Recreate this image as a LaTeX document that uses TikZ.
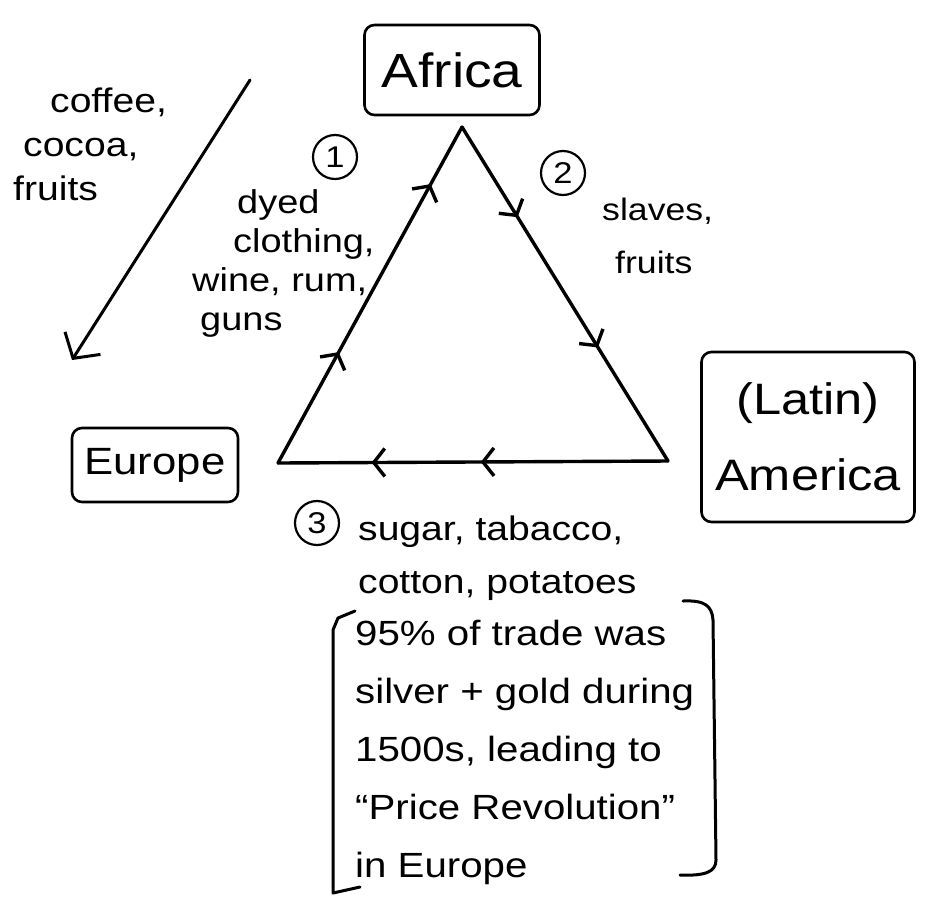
\documentclass[tikz,border=0pt]{standalone}
\usepackage{fontspec}
\setmainfont[FakeStretch=1.15]{Liberation Sans}
\usetikzlibrary{arrows.meta,decorations.markings}
\begin{document}
\begin{tikzpicture}[x=1pt,y=-1pt,line cap=round,line join=round,
  box/.style={draw,line width=2.6pt,rounded corners=10pt,inner sep=0pt,align=center},
  txt/.style={anchor=base west,inner sep=0pt,align=left},
  num/.style={draw,circle,line width=2.2pt,minimum size=44pt,inner sep=0pt,font=\fontsize{30}{30}\selectfont},
  edge/.style={line width=3.4pt},
  barb/.style={-{Straight Barb[length=18pt,width=42pt]}},
  midarrows/.style 2 args={decoration={markings,
      mark=at position #1 with {\arrow{Straight Barb[length=11pt,width=28pt]}},
      mark=at position #2 with {\arrow{Straight Barb[length=11pt,width=28pt]}}},
    postaction={decorate}}]
\useasboundingbox (0,0) rectangle (925,911);

% place boxes
\node[box,minimum width=175pt,minimum height=90pt,font=\fontsize{48}{48}\selectfont] (africa) at (452,70) {Africa};
\node[box,minimum width=166pt,minimum height=74pt,font=\fontsize{38}{38}\selectfont] (europe) at (155,465) {Europe};
\node[box,minimum width=213pt,minimum height=170pt,font=\fontsize{44}{76}\selectfont] (america) at (808,437) {(Latin)\\America};

% triangle
\coordinate (AF) at (462,127);
\coordinate (EU) at (278,463);
\coordinate (AM) at (668,461);
\draw[edge,midarrows={0.33}{0.83}] (EU) -- (AF);
\draw[edge,midarrows={0.27}{0.66}] (AF) -- (AM);
\draw[edge,midarrows={0.48}{0.76}] (AM) -- (EU);

% numbers
\node[num] (n1) at (335,157) {1};
\node[num] (n2) at (563,173) {2};
\node[num] (n3) at (317,523) {3};

% long arrow
\coordinate (ls) at (250,80);
\coordinate (le) at (72,360);
\draw[line width=3pt,barb] (ls) -- (le);

% labels (base anchor = baseline of last line)
\node[txt,font=\fontsize{34}{44}\selectfont] (goods0) at (13,200)
  {\hspace*{37pt}coffee,\\\hspace*{10pt}cocoa,\\fruits};
\node[txt,font=\fontsize{33}{39}\selectfont] (goods1) at (192,330)
  {\hspace*{45pt}dyed\\\hspace*{41pt}clothing,\\wine, rum,\\\hspace*{8pt}guns};
\node[txt,font=\fontsize{31}{53}\selectfont] (goods2) at (602,273)
  {slaves,\\\hspace*{13pt}fruits};
\node[txt,font=\fontsize{34}{53}\selectfont] (goods3) at (358,593)
  {sugar, tabacco,\\cotton, potatoes};
\node[txt,font=\fontsize{35}{58}\selectfont] (note) at (355,877)
  {95\% of trade was\\silver + gold during\\1500s, leading to\\``Price Revolution''\\in Europe};

% brackets
\draw[line width=3pt] (355,611) -- (338,618) -- (333,630) -- (333,893) -- (360,887);
\draw[line width=3pt] (683,601) .. controls (705,600) and (712,606) .. (713,620)
  -- (716,860) .. controls (716,872) and (705,876) .. (680,875);
\end{tikzpicture}
\end{document}
